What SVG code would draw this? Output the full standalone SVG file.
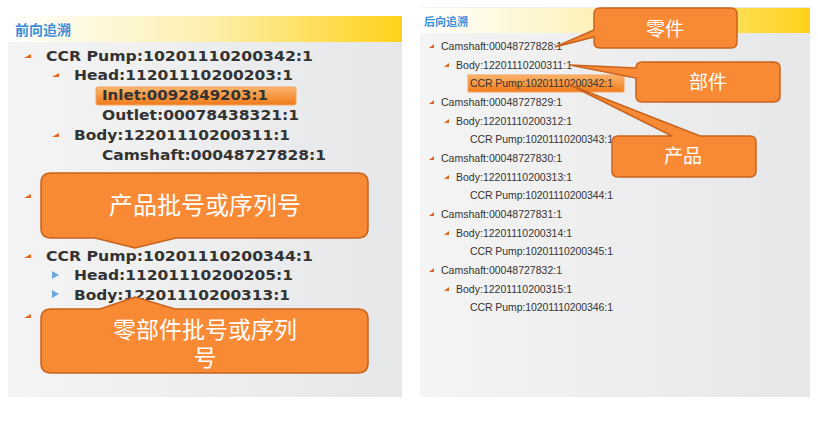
<svg xmlns="http://www.w3.org/2000/svg" width="818" height="424" viewBox="0 0 818 424">
<defs>
<linearGradient id="hdr" x1="0" x2="1" y1="0" y2="0"><stop offset="0" stop-color="#ffffff"/><stop offset="0.5" stop-color="#fdf0b0"/><stop offset="1" stop-color="#ffd21a"/></linearGradient>
<linearGradient id="pnl" x1="0" x2="1" y1="0" y2="0"><stop offset="0" stop-color="#f4f4f4"/><stop offset="1" stop-color="#e6e7e9"/></linearGradient>
<linearGradient id="sel" x1="0" x2="0" y1="0" y2="1"><stop offset="0" stop-color="#fbb56b"/><stop offset="1" stop-color="#f07a1a"/></linearGradient>
</defs>
<style>
.t{font-family:"DejaVu Sans","Liberation Sans",sans-serif;fill:#333}
.l{font-size:13.5px;font-weight:bold}
.r{font-size:10.5px;font-family:"Liberation Sans",Arial,sans-serif}
.h{font-family:"Noto Sans CJK SC",sans-serif;font-weight:bold;fill:#3a8fd8}
.c{fill:#f98a35;stroke:#c8631e;stroke-width:1.5}
.ct{font-family:"Noto Sans CJK SC",sans-serif;fill:#fff;text-anchor:middle}
.ex{fill:#e2661b}
.ec{fill:#6aa6e0}
</style>
<rect width="818" height="424" fill="#fff"/>
<g id="left-panel">
<rect x="8" y="16" width="394" height="381" fill="url(#pnl)"/>
<rect x="8" y="16" width="394" height="26" fill="url(#hdr)"/>
<text class="h" x="15" y="35" font-size="14">前向追溯</text>
<rect x="96" y="87" width="200" height="18" rx="2" fill="url(#sel)" stroke="#f3a35c"/>
<g class="t l" lengthAdjust="spacingAndGlyphs">
<text x="46" y="61" textLength="267" lengthAdjust="spacingAndGlyphs">CCR Pump:10201110200342:1</text>
<text x="74" y="80" textLength="219" lengthAdjust="spacingAndGlyphs">Head:11201110200203:1</text>
<text x="102" y="100" textLength="166" lengthAdjust="spacingAndGlyphs">Inlet:0092849203:1</text>
<text x="102" y="120" textLength="197" lengthAdjust="spacingAndGlyphs">Outlet:00078438321:1</text>
<text x="74" y="140" textLength="216" lengthAdjust="spacingAndGlyphs">Body:12201110200311:1</text>
<text x="102" y="160" textLength="224" lengthAdjust="spacingAndGlyphs">Camshaft:00048727828:1</text>
<text x="46" y="261" textLength="267" lengthAdjust="spacingAndGlyphs">CCR Pump:10201110200344:1</text>
<text x="74" y="280" textLength="219" lengthAdjust="spacingAndGlyphs">Head:11201110200205:1</text>
<text x="74" y="300" textLength="216" lengthAdjust="spacingAndGlyphs">Body:12201110200313:1</text>
</g>
<polygon class="ex" points="24,58 31,54 31,58"/>
<polygon class="ex" points="52,77 59,73 59,77"/>
<polygon class="ex" points="52,137 59,133 59,137"/>
<polygon class="ex" points="24,198 31,194 31,198"/>
<polygon class="ex" points="24,258 31,254 31,258"/>
<polygon class="ec" points="52,271 59,275 52,279"/>
<polygon class="ec" points="52,290 59,294 52,298"/>
<polygon class="ex" points="24,318 31,314 31,318"/>
</g>
<g id="right-panel">
<rect x="420" y="7" width="390" height="390" fill="url(#pnl)"/>
<rect x="420" y="8" width="390" height="25" fill="url(#hdr)"/>
<text class="h" x="424" y="26" font-size="11">后向追溯</text>
<rect x="468" y="75" width="156" height="17" fill="url(#sel)" stroke="#f3a35c"/>
<g class="t r">
<text x="441" y="50" textLength="121">Camshaft:00048727828:1</text>
<text x="456" y="69" textLength="116">Body:12201110200311:1</text>
<text x="470" y="87" textLength="143">CCR Pump:10201110200342:1</text>
<text x="441" y="106" textLength="121">Camshaft:00048727829:1</text>
<text x="456" y="125" textLength="116">Body:12201110200312:1</text>
<text x="470" y="143" textLength="143">CCR Pump:10201110200343:1</text>
<text x="441" y="162" textLength="121">Camshaft:00048727830:1</text>
<text x="456" y="181" textLength="116">Body:12201110200313:1</text>
<text x="470" y="199" textLength="143">CCR Pump:10201110200344:1</text>
<text x="441" y="218" textLength="121">Camshaft:00048727831:1</text>
<text x="456" y="237" textLength="116">Body:12201110200314:1</text>
<text x="470" y="255" textLength="143">CCR Pump:10201110200345:1</text>
<text x="441" y="274" textLength="121">Camshaft:00048727832:1</text>
<text x="456" y="293" textLength="116">Body:12201110200315:1</text>
<text x="470" y="311" textLength="143">CCR Pump:10201110200346:1</text>
</g>
<g class="ex">
<polygon points="429,48 434,44 434,48"/><polygon points="444,67 449,63 449,67"/>
<polygon points="429,104 434,100 434,104"/><polygon points="444,123 449,119 449,123"/>
<polygon points="429,160 434,156 434,160"/><polygon points="444,179 449,175 449,179"/>
<polygon points="429,216 434,212 434,216"/><polygon points="444,235 449,231 449,235"/>
<polygon points="429,272 434,268 434,272"/><polygon points="444,291 449,287 449,291"/>
</g>
</g>
<g id="connectors">
<path class="c" d="M51,173 H358 Q368,173 368,183 V228 Q368,238 358,238 H176 L135,248 L95,238 H51 Q41,238 41,228 V183 Q41,173 51,173 Z"/>
<path class="c" d="M51,309 H100 L135,297 L175,309 H358 Q368,309 368,319 V363 Q368,373 358,373 H51 Q41,373 41,363 V319 Q41,309 51,309 Z"/>
<path class="c" d="M600,8 H731 Q737,8 737,14 V42 Q737,48 731,48 H600 Q594,48 594,42 V37 L555,47 L594,30 V14 Q594,8 600,8 Z"/>
<path class="c" d="M642,62 H774 Q780,62 780,68 V96 Q780,102 774,102 H642 Q636,102 636,96 V78 L570,65 L636,68 Q636,62 642,62 Z"/>
<path class="c" d="M618,136 H672 L570,85 L700,136 H750 Q756,136 756,142 V171 Q756,177 750,177 H618 Q612,177 612,171 V142 Q612,136 618,136 Z"/>
</g>
<g id="callout-labels">
<text class="ct" x="205" y="214" font-size="24">产品批号或序列号</text>
<text class="ct" x="205" y="338" font-size="23">零部件批号或序列</text>
<text class="ct" x="205" y="366" font-size="23">号</text>
<text class="ct" x="665" y="36" font-size="19">零件</text>
<text class="ct" x="708" y="89" font-size="19">部件</text>
<text class="ct" x="683" y="163" font-size="19">产品</text>
</g>
</svg>
